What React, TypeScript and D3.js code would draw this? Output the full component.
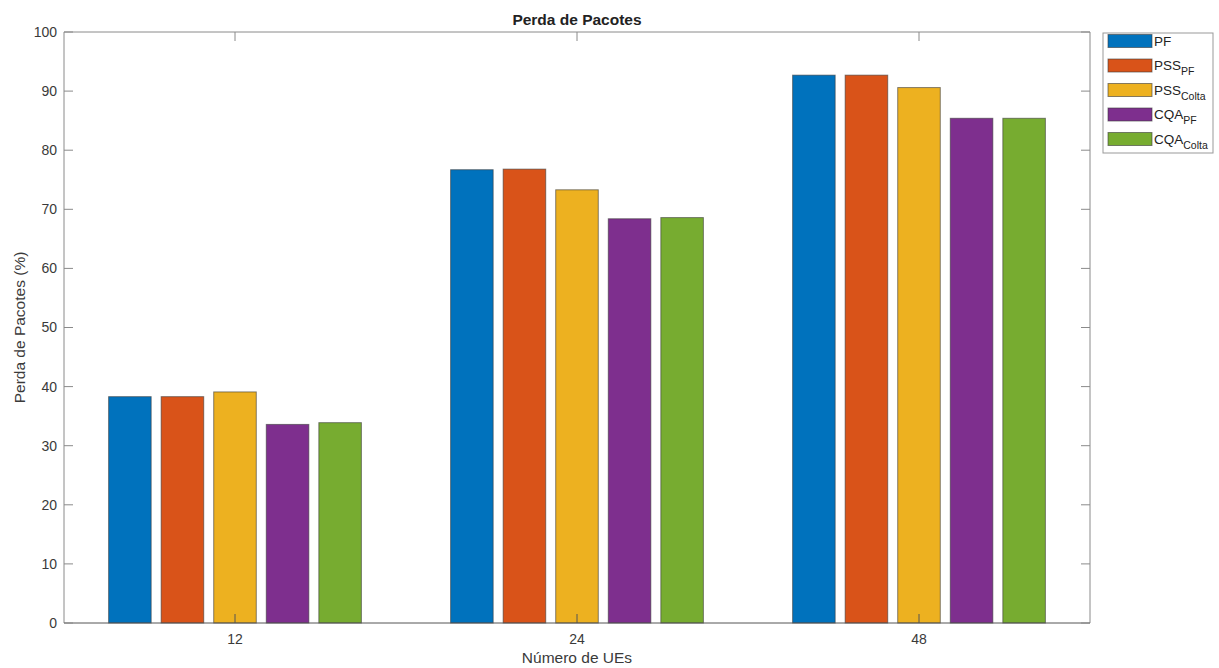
import React from "react";
import * as d3 from "d3";

const categories = ["12", "24", "48"];
const seriesNames = [
  { base: "PF", sub: "" },
  { base: "PSS", sub: "PF" },
  { base: "PSS", sub: "Colta" },
  { base: "CQA", sub: "PF" },
  { base: "CQA", sub: "Colta" },
];
const seriesColors = ["#0072BD", "#D95319", "#EDB120", "#7E2F8E", "#77AC30"];
const valuesPF = [38.3, 76.7, 92.7];
const valuesPSSPF = [38.3, 76.8, 92.7];
const valuesPSSColta = [39.1, 73.3, 90.6];
const valuesCQAPF = [33.6, 68.4, 85.4];
const valuesCQAColta = [33.9, 68.6, 85.4];
const seriesValues = [valuesPF, valuesPSSPF, valuesPSSColta, valuesCQAPF, valuesCQAColta];
const yTicks = [0, 10, 20, 30, 40, 50, 60, 70, 80, 90, 100];

export default function App() {
  const W = 1219, H = 668;
  const left = 64, right = 1090, top = 32, bottom = 623;
  const x = d3.scaleBand<string>().domain(categories).range([left, right]).padding(0);
  const y = d3.scaleLinear().domain([0, 100]).range([bottom, top]);
  const groupHalf = 126.4;
  const idx = seriesNames.map((_, i) => String(i));
  const tickLen = 9;
  const font = "Helvetica, Arial, 'Liberation Sans', sans-serif";
  const axisCol = "#8a8a8a";
  const textCol = "#3a3a3a";

  return (
    <svg width={W} height={H} style={{ position: "absolute", left: 0, top: 0, background: "#fff" }} fontFamily={font}>
      <rect x={0} y={0} width={W} height={H} fill="#fff" />
      {categories.map((c, ci) => {
        const cx = x(c)! + x.bandwidth() / 2;
        const sub = d3.scaleBand<string>().domain(idx).range([cx - groupHalf, cx + groupHalf]).paddingInner(0.19).paddingOuter(0);
        return (
          <g key={c}>
            {seriesValues.map((vals, si) => (
              <rect
                key={si}
                x={sub(String(si))!}
                y={y(vals[ci])}
                width={sub.bandwidth()}
                height={y(0) - y(vals[ci])}
                fill={seriesColors[si]}
                stroke="#3a3a3a"
                strokeOpacity={0.6}
                strokeWidth={1}
              />
            ))}
          </g>
        );
      })}
      <line x1={left} x2={right} y1={top} y2={top} stroke={axisCol} strokeWidth={1} />
      <line x1={right} x2={right} y1={top} y2={bottom} stroke={axisCol} strokeWidth={1} />
      <line x1={left} x2={left} y1={top} y2={bottom} stroke={axisCol} strokeWidth={1} />
      <line x1={left} x2={right} y1={bottom} y2={bottom} stroke="#555" strokeWidth={1} />
      {yTicks.map((t) => (
        <g key={t}>
          <line x1={left} x2={left + tickLen} y1={y(t)} y2={y(t)} stroke={axisCol} />
          <line x1={right} x2={right - tickLen} y1={y(t)} y2={y(t)} stroke={axisCol} />
          <text x={left - 7} y={y(t)} dy="0.35em" textAnchor="end" fontSize={14} fill={textCol}>{t}</text>
        </g>
      ))}
      {categories.map((c) => {
        const cx = x(c)! + x.bandwidth() / 2;
        return (
          <g key={c}>
            <line x1={cx} x2={cx} y1={bottom} y2={bottom - tickLen} stroke="#555" />
            <line x1={cx} x2={cx} y1={top} y2={top + tickLen} stroke={axisCol} />
            <text x={cx} y={bottom + 21} textAnchor="middle" fontSize={14} fill={textCol}>{c}</text>
          </g>
        );
      })}
      <text x={(left + right) / 2} y={25} textAnchor="middle" fontSize={15.5} fontWeight="bold" fill="#222">Perda de Pacotes</text>
      <text x={(left + right) / 2} y={663} textAnchor="middle" fontSize={15.5} fill={textCol}>Número de UEs</text>
      <text transform={`translate(25, ${(top + bottom) / 2}) rotate(-90)`} textAnchor="middle" fontSize={15.5} fill={textCol}>Perda de Pacotes (%)</text>
      <rect x={1103} y={33} width={110} height={120} fill="#fff" stroke="#999" strokeWidth={1} />
      {seriesNames.map((s, i) => {
        const cy = 41 + i * 24.5;
        return (
          <g key={i}>
            <rect x={1108} y={cy - 6.5} width={44} height={13} fill={seriesColors[i]} stroke="#3a3a3a" strokeOpacity={0.6} />
            <text x={1154} y={cy} dy="0.35em" fontSize={13.5} fill="#222">
              {s.base}
              {s.sub ? <tspan fontSize={10.5} dy="5">{s.sub}</tspan> : null}
            </text>
          </g>
        );
      })}
    </svg>
  );
}
